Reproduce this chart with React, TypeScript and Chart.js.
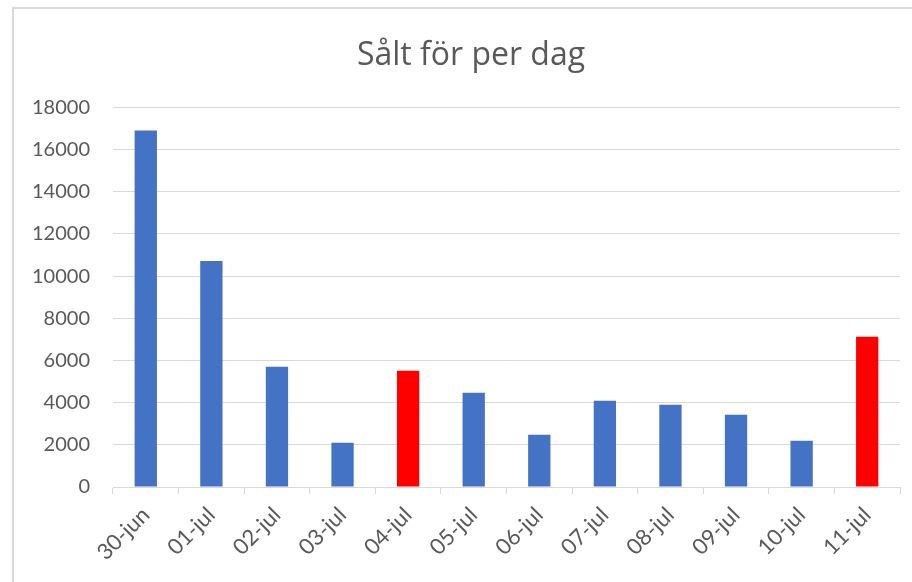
import React, { useEffect, useRef } from "react";
import { Chart, registerables } from "chart.js";

Chart.register(...registerables);

const title = "Sålt för per dag";
const categories = ["30-jun", "01-jul", "02-jul", "03-jul", "04-jul", "05-jul", "06-jul", "07-jul", "08-jul", "09-jul", "10-jul", "11-jul"];
const values = [16900, 10720, 5700, 2100, 5510, 4470, 2480, 4090, 3900, 3430, 2190, 7120];
const highlighted = ["04-jul", "11-jul"];
const yTicks = [0, 2000, 4000, 6000, 8000, 10000, 12000, 14000, 16000, 18000];

const BLUE = "#4472C4";
const RED = "#FF0000";
const TEXT = "#595959";
const LINE = "#D9D9D9";

const borderPlugin = {
  id: "frameBorder",
  afterLayout(chart: any) {
    const t = chart.titleBlock;
    if (t) {
      t.left += 21;
      t.right += 21;
    }
  },
  beforeDraw(chart: any) {
    const ctx = chart.ctx;
    ctx.save();
    ctx.fillStyle = "#ffffff";
    ctx.fillRect(0, 0, chart.width, chart.height);
    ctx.strokeStyle = LINE;
    ctx.lineWidth = 2;
    ctx.beginPath();
    ctx.moveTo(13, chart.height);
    ctx.lineTo(13, 8);
    ctx.lineTo(chart.width, 8);
    ctx.stroke();
    ctx.restore();
  },
};

export default function App() {
  const ref = useRef<HTMLCanvasElement | null>(null);
  useEffect(() => {
    document.body.style.margin = "0";
    const canvas = ref.current;
    if (!canvas) return;
    const chart = new Chart(canvas, {
      type: "bar",
      data: {
        labels: categories,
        datasets: [
          {
            data: values,
            backgroundColor: categories.map((c) => (highlighted.includes(c) ? RED : BLUE)),
            barPercentage: 0.34,
            categoryPercentage: 1,
          },
        ],
      },
      options: {
        responsive: false,
        animation: false,
        devicePixelRatio: 1,
        layout: { padding: { left: 0, right: 12, top: 0, bottom: 0 } },
        plugins: {
          legend: { display: false },
          tooltip: { enabled: false },
          title: {
            display: true,
            text: title,
            color: TEXT,
            font: { family: "Open Sans", size: 32, weight: "normal" },
            padding: { top: 37, bottom: 32 },
          },
        },
        scales: {
          x: {
            grid: {
              display: true,
              drawOnChartArea: false,
              drawTicks: true,
              tickLength: 7,
              offset: true,
              color: LINE,
            },
            border: { display: true, color: LINE, width: 1 },
            ticks: {
              color: TEXT,
              font: { family: "Lato", size: 22 },
              minRotation: 45,
              maxRotation: 45,
              padding: 8,
              autoSkip: false,
            },
            afterFit(scale: any) {
              scale.height = 95;
            },
          },
          y: {
            min: 0,
            max: 18000,
            afterBuildTicks(scale: any) {
              scale.ticks = yTicks.map((v) => ({ value: v }));
            },
            grid: { color: LINE, drawTicks: false, lineWidth: 1 },
            border: { display: false },
            ticks: {
              color: TEXT,
              font: { family: "Lato", size: 20 },
              padding: 23,
              callback: (v: any) => String(v),
            },
            afterFit(scale: any) {
              scale.width = 113;
            },
          },
        },
      },
      plugins: [borderPlugin],
    });
    return () => chart.destroy();
  }, []);
  return (
    <div style={{ width: 912, height: 582 }}>
      <canvas ref={ref} width={912} height={582} style={{ display: "block" }} />
    </div>
  );
}
